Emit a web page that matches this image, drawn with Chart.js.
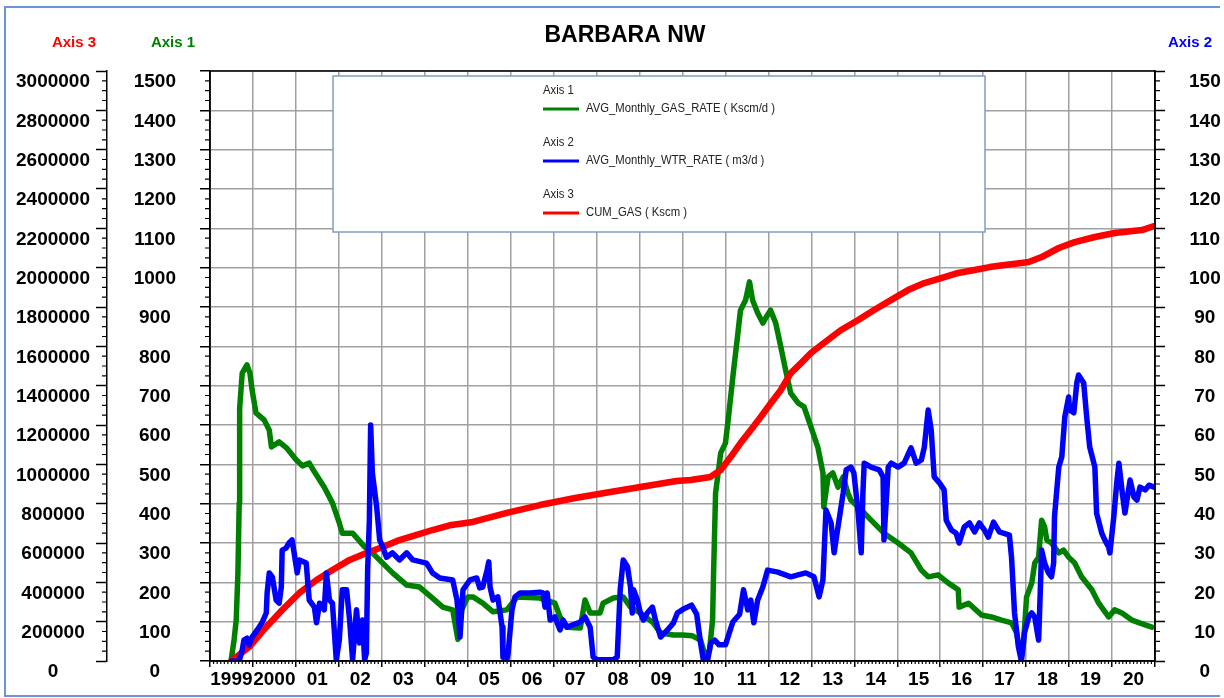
<!DOCTYPE html>
<html>
<head>
<meta charset="utf-8">
<script src="https://cdn.jsdelivr.net/npm/chart.js@4.4.0/dist/chart.umd.min.js"></script>
<style>
  html, body { margin: 0; padding: 0; background: #fff; }
</style>
</head>
<body>
<canvas id="chart" width="1224" height="698"></canvas>
<script>
// x tick labels, one per year interval
var yearLabels = ['1999', '2000', '01', '02', '03', '04', '05', '06', '07', '08', '09',
                  '10', '11', '12', '13', '14', '15', '16', '17', '18', '19', '20'];

// Axis 1 - gas rate (Kscm/d)
var gasT = [1999.49, 1999.56, 1999.61, 1999.65, 1999.68, 1999.69, 1999.75, 1999.86, 1999.93, 1999.98,
  2000.07, 2000.26, 2000.38, 2000.43, 2000.61, 2000.78, 2001.01, 2001.15, 2001.31, 2001.43,
  2001.66, 2001.85, 2002.01, 2002.08, 2002.32, 2002.60, 2002.78, 2002.99, 2003.25, 2003.58,
  2003.88, 2004.18, 2004.42, 2004.65, 2004.77, 2004.86, 2005.00, 2005.12, 2005.35, 2005.59,
  2005.91, 2006.15, 2006.68, 2007.03, 2007.15, 2007.31, 2007.62, 2007.73, 2007.85, 2008.08,
  2008.15, 2008.39, 2008.62, 2008.79, 2009.02, 2009.32, 2009.49, 2009.79, 2010.00, 2010.23,
  2010.42, 2010.49, 2010.56, 2010.63, 2010.70, 2010.72, 2010.77, 2010.89, 2011.00, 2011.07,
  2011.19, 2011.28, 2011.35, 2011.47, 2011.56, 2011.63, 2011.75, 2011.87, 2011.98, 2012.05,
  2012.17, 2012.29, 2012.40, 2012.52, 2012.69, 2012.83, 2012.99, 2013.15, 2013.27, 2013.29,
  2013.39, 2013.50, 2013.62, 2013.74, 2013.85, 2013.92, 2014.16, 2014.39, 2014.69, 2015.02,
  2015.32, 2015.56, 2015.72, 2015.95, 2016.19, 2016.42, 2016.44, 2016.66, 2016.96, 2017.19,
  2017.43, 2017.66, 2017.78, 2017.85, 2017.89, 2017.94, 2018.01, 2018.13, 2018.20, 2018.29,
  2018.36, 2018.43, 2018.48, 2018.59, 2018.76, 2018.87, 2018.99, 2019.13, 2019.29, 2019.53,
  2019.69, 2019.92, 2020.06, 2020.23, 2020.46, 2020.77, 2020.93];
var gasRate = [0, 53, 104, 224, 402, 643, 732, 753, 732, 689,
  631, 613, 587, 544, 557, 542, 511, 496, 503, 481,
  442, 402, 351, 325, 325, 290, 275, 252, 224, 193,
  188, 160, 137, 130, 55, 130, 163, 163, 147, 125,
  130, 163, 160, 147, 112, 86, 84, 155, 122, 122,
  147, 160, 163, 137, 122, 97, 71, 66, 66, 64,
  53, 28, 8, 28, 104, 206, 427, 529, 554, 620,
  740, 824, 892, 918, 964, 918, 885, 859, 880, 892,
  859, 798, 740, 681, 656, 646, 595, 544, 478, 392,
  468, 478, 442, 468, 427, 409, 384, 358, 325, 300,
  275, 231, 214, 219, 198, 181, 137, 147, 117, 112,
  104, 97, 71, 28, 8, 46, 163, 198, 249, 264,
  358, 341, 308, 300, 275, 282, 264, 249, 214, 181,
  147, 112, 130, 122, 104, 92, 86];

// Axis 2 - water rate (m3/d)
var wtrT = [1999.51, 1999.68, 1999.75, 1999.79, 1999.86, 1999.91, 1999.98, 2000.10, 2000.21, 2000.31,
  2000.33, 2000.38, 2000.45, 2000.54, 2000.61, 2000.66, 2000.68, 2000.77, 2000.84, 2000.91,
  2001.01, 2001.03, 2001.08, 2001.24, 2001.31, 2001.43, 2001.48, 2001.55, 2001.66, 2001.71,
  2001.78, 2001.85, 2001.94, 2002.01, 2002.08, 2002.18, 2002.25, 2002.32, 2002.41, 2002.48,
  2002.55, 2002.60, 2002.64, 2002.67, 2002.71, 2002.74, 2002.78, 2002.88, 2002.95, 2003.02,
  2003.11, 2003.25, 2003.41, 2003.58, 2003.72, 2004.04, 2004.18, 2004.35, 2004.65, 2004.75,
  2004.82, 2004.86, 2004.89, 2005.05, 2005.21, 2005.28, 2005.35, 2005.45, 2005.49, 2005.52,
  2005.59, 2005.70, 2005.80, 2005.82, 2005.91, 2005.94, 2006.03, 2006.10, 2006.22, 2006.45,
  2006.68, 2006.75, 2006.80, 2006.85, 2006.92, 2007.03, 2007.15, 2007.22, 2007.31, 2007.45,
  2007.62, 2007.73, 2007.85, 2007.92, 2008.01, 2008.39, 2008.48, 2008.55, 2008.62, 2008.72,
  2008.79, 2008.83, 2008.86, 2008.95, 2009.02, 2009.09, 2009.18, 2009.30, 2009.37, 2009.49,
  2009.65, 2009.79, 2009.88, 2010.02, 2010.21, 2010.33, 2010.42, 2010.49, 2010.58, 2010.66,
  2010.75, 2010.85, 2011.00, 2011.17, 2011.33, 2011.42, 2011.52, 2011.59, 2011.66, 2011.75,
  2011.87, 2011.98, 2012.22, 2012.52, 2012.69, 2012.87, 2013.06, 2013.18, 2013.27, 2013.34,
  2013.46, 2013.53, 2013.62, 2013.74, 2013.81, 2013.92, 2013.99, 2014.09, 2014.16, 2014.20,
  2014.23, 2014.39, 2014.58, 2014.67, 2014.69, 2014.79, 2014.86, 2015.02, 2015.16, 2015.32,
  2015.44, 2015.56, 2015.63, 2015.72, 2015.79, 2015.86, 2015.98, 2016.09, 2016.14, 2016.26,
  2016.37, 2016.44, 2016.56, 2016.68, 2016.80, 2016.91, 2017.03, 2017.12, 2017.24, 2017.38,
  2017.61, 2017.66, 2017.73, 2017.82, 2017.89, 2017.96, 2018.06, 2018.13, 2018.20, 2018.29,
  2018.31, 2018.36, 2018.43, 2018.52, 2018.59, 2018.64, 2018.66, 2018.76, 2018.83, 2018.90,
  2018.99, 2019.01, 2019.11, 2019.18, 2019.22, 2019.34, 2019.41, 2019.48, 2019.60, 2019.64,
  2019.76, 2019.83, 2019.92, 2019.95, 2020.04, 2020.11, 2020.16, 2020.23, 2020.30, 2020.42,
  2020.51, 2020.58, 2020.65, 2020.77, 2020.86, 2020.98];
var wtrRate = [0, 0, 2.8, 5.3, 5.8, 4.1, 6.1, 7.9, 9.7, 12.2,
  17.3, 22.4, 21.4, 15.5, 14.7, 18.8, 28.2, 28.7, 30.0, 30.8,
  23.9, 22.4, 25.7, 24.9, 15.5, 13.7, 9.7, 14.7, 13.0, 22.4,
  15.5, 14.7, 0.3, 5.3, 18.1, 18.1, 10.4, 0.3, 13.0, 4.6,
  10.4, 0.3, 2.0, 23.1, 35.8, 60.0, 47.8, 39.2, 30.8, 29.0,
  26.4, 27.5, 25.7, 27.5, 25.7, 24.9, 22.4, 21.1, 20.6, 15.5,
  6.1, 13.0, 18.1, 20.6, 21.1, 18.6, 18.8, 23.1, 25.2, 18.8,
  15.5, 16.3, 8.6, 1.0, 0.3, 2.0, 13.0, 16.3, 17.3, 17.3,
  17.5, 17.3, 13.7, 17.3, 10.4, 11.2, 7.9, 10.4, 8.6, 9.2,
  9.9, 11.2, 8.6, 1.0, 0.3, 0.3, 1.0, 18.1, 25.7, 23.9,
  18.8, 12.2, 18.1, 15.5, 12.2, 10.4, 12.2, 13.7, 10.4, 6.1,
  7.9, 9.7, 12.2, 13.2, 14.2, 11.9, 4.6, 0, 0, 4.6,
  5.3, 4.1, 4.1, 9.9, 11.9, 18.1, 13.0, 15.5, 9.7, 15.5,
  18.8, 23.1, 22.6, 21.4, 21.9, 22.4, 21.4, 16.3, 20.6, 38.4,
  35.1, 27.5, 34.1, 42.7, 48.6, 49.3, 47.8, 37.6, 27.5, 42.7,
  50.3, 49.3, 48.6, 46.8, 30.8, 49.3, 50.3, 49.3, 50.3, 54.2,
  50.3, 51.1, 54.4, 63.8, 58.7, 46.8, 45.3, 43.5, 35.8, 33.3,
  32.5, 30.0, 34.1, 35.1, 32.8, 35.1, 33.3, 31.5, 35.3, 32.8,
  32.0, 26.4, 12.2, 3.6, 0, 7.1, 11.2, 12.2, 11.2, 5.3,
  11.2, 28.2, 24.9, 22.4, 21.4, 24.9, 36.6, 49.3, 51.9, 62.0,
  67.1, 63.8, 63.1, 70.7, 72.7, 70.7, 62.0, 54.4, 49.3, 37.6,
  32.5, 30.8, 29.0, 27.5, 36.6, 45.3, 50.3, 43.5, 37.6, 46.0,
  41.7, 40.9, 44.2, 43.5, 44.7, 44.2];

// Axis 3 - cumulative gas (Kscm)
var cumT = [1999.49, 1999.91, 2000.31, 2000.68, 2001.08, 2001.48, 2001.85, 2002.25, 2002.64, 2003.02,
  2003.41, 2003.81, 2004.18, 2004.58, 2005.12, 2005.91, 2006.68, 2007.50, 2008.32, 2009.02,
  2009.86, 2010.19, 2010.65, 2010.89, 2011.12, 2011.35, 2011.59, 2011.82, 2012.06, 2012.29,
  2012.52, 2012.76, 2012.99, 2013.29, 2013.69, 2014.09, 2014.46, 2014.86, 2015.25, 2015.63,
  2016.02, 2016.42, 2016.80, 2017.15, 2017.50, 2017.89, 2018.06, 2018.36, 2018.76, 2019.13,
  2019.60, 2020.06, 2020.70, 2020.98];
var cumGas = [0, 71000, 173000, 259000, 346000, 412000, 463000, 514000, 549000, 580000,
  615000, 641000, 666000, 690000, 707000, 753000, 793000, 829000, 859000, 885000,
  915000, 920000, 936000, 971000, 1037000, 1108000, 1175000, 1241000, 1312000, 1378000,
  1464000, 1515000, 1566000, 1617000, 1683000, 1734000, 1785000, 1836000, 1886000, 1922000,
  1947000, 1973000, 1988000, 2003000, 2014000, 2024000, 2029000, 2054000, 2100000, 2130000,
  2156000, 2176000, 2191000, 2212000];

function pairs(xs, ys) {
    return xs.map(function (x, i) { return { x: x, y: ys[i] }; });
}

var tickFont = { family: "'Liberation Sans', Arial, sans-serif", size: 19, weight: 'bold' };
var gridGray = '#a0a0a0';

// minor ticks, axis names, title, legend box and frames
var decorPlugin = {
    id: 'decor',
    beforeDraw: function (chart) {
        var ctx = chart.ctx;
        ctx.save();
        ctx.fillStyle = '#fff';
        ctx.fillRect(0, 0, chart.width, chart.height);
        ctx.restore();
    },
    afterDraw: function (chart) {
        var ctx = chart.ctx;
        var area = chart.chartArea;
        var s = chart.scales;
        ctx.save();

        // outer border
        ctx.strokeStyle = '#6b95d6';
        ctx.lineWidth = 2;
        ctx.beginPath();
        ctx.moveTo(1220, 7); ctx.lineTo(5, 7); ctx.lineTo(5, 696); ctx.lineTo(1220, 696);
        ctx.stroke();

        // plot frame
        ctx.strokeStyle = '#000';
        ctx.lineWidth = 1.5;
        ctx.strokeRect(area.left, area.top, area.right - area.left, area.bottom - area.top);

        // minor ticks
        ctx.lineWidth = 1.2;
        ctx.beginPath();
        for (var yr = 1999; yr < 2021; yr++) {
            for (var m = 1; m < 12; m++) {
                var px = s.x.getPixelForValue(yr + m / 12);
                ctx.moveTo(px, area.bottom); ctx.lineTo(px, area.bottom + 3);
            }
        }
        function yMinor(scale, step, major, left, len) {
            for (var v = 0; v <= scale.max; v += step) {
                if (v % major === 0) continue;
                var py = scale.getPixelForValue(v);
                if (left) { ctx.moveTo(scale.right - len, py); ctx.lineTo(scale.right, py); }
                else { ctx.moveTo(scale.left, py); ctx.lineTo(scale.left + len, py); }
            }
        }
        yMinor(s.y3, 50000, 200000, true, 5);
        yMinor(s.y1, 25, 100, true, 5);
        yMinor(s.y2, 2.5, 10, false, 5);
        ctx.stroke();

        // title
        ctx.fillStyle = '#000';
        ctx.textAlign = 'center';
        ctx.textBaseline = 'middle';
        ctx.font = "bold 23px 'Liberation Sans', Arial, sans-serif";
        ctx.fillText('BARBARA NW', 625, 36);

        // axis names
        ctx.font = "bold 15px 'Liberation Sans', Arial, sans-serif";
        ctx.fillStyle = '#ff0000'; ctx.fillText('Axis 3', 74, 43);
        ctx.fillStyle = '#008000'; ctx.fillText('Axis 1', 173, 43);
        ctx.fillStyle = '#0000ff'; ctx.fillText('Axis 2', 1190, 43);

        // legend box
        ctx.fillStyle = '#fff';
        ctx.fillRect(333, 76, 652, 156);
        ctx.strokeStyle = '#7f9fc8';
        ctx.lineWidth = 1.5;
        ctx.strokeRect(333, 76, 652, 156);

        ctx.font = "12px 'Liberation Sans', Arial, sans-serif";
        ctx.textAlign = 'left';
        var first = chart.data.datasets[0].label;
        var k = 189 / ctx.measureText(first).width;
        chart.data.datasets.forEach(function (ds, i) {
            var top = 91 + i * 52;
            ctx.fillStyle = '#222';
            ctx.fillText(ds.axisName, 543, top, ctx.measureText(ds.axisName).width * k);
            ctx.strokeStyle = ds.borderColor;
            ctx.lineWidth = 3;
            ctx.beginPath();
            ctx.moveTo(543, top + 18); ctx.lineTo(579, top + 18);
            ctx.stroke();
            ctx.fillStyle = '#222';
            ctx.fillText(ds.label, 586, top + 18, ctx.measureText(ds.label).width * k);
        });
        ctx.restore();
    }
};

new Chart(document.getElementById('chart'), {
    type: 'line',
    data: {
        datasets: [{
            label: 'AVG_Monthly_GAS_RATE ( Kscm/d )',
            axisName: 'Axis 1',
            data: pairs(gasT, gasRate),
            yAxisID: 'y1',
            borderColor: '#008000',
            borderWidth: 5.5,
            pointRadius: 0,
            order: 3
        }, {
            label: 'AVG_Monthly_WTR_RATE ( m3/d )',
            axisName: 'Axis 2',
            data: pairs(wtrT, wtrRate),
            yAxisID: 'y2',
            borderColor: '#0000ff',
            borderWidth: 5.5,
            pointRadius: 0,
            order: 1
        }, {
            label: 'CUM_GAS ( Kscm )',
            axisName: 'Axis 3',
            data: pairs(cumT, cumGas),
            yAxisID: 'y3',
            borderColor: '#ff0000',
            borderWidth: 6.5,
            pointRadius: 0,
            order: 2
        }]
    },
    options: {
        responsive: false,
        animation: false,
        layout: { padding: { left: 16, right: 0, top: 71, bottom: 7 } },
        plugins: {
            legend: { display: false },
            title: { display: false },
            tooltip: { enabled: false }
        },
        elements: { line: { tension: 0, borderJoinStyle: 'round', borderCapStyle: 'round' } },
        scales: {
            x: {
                type: 'linear',
                position: 'bottom',
                min: 1999,
                max: 2021,
                afterFit: function (scale) { scale.height = 30; },
                grid: { color: gridGray, lineWidth: 1.5, tickColor: '#000', tickLength: 6, tickWidth: 1.5 },
                border: { color: '#000', width: 1.5 },
                ticks: {
                    stepSize: 1,
                    autoSkip: false,
                    maxRotation: 0,
                    labelOffset: 21.4,
                    padding: 1,
                    color: '#000',
                    font: tickFont,
                    callback: function (v) { return yearLabels[v - 1999] || ''; }
                }
            },
            y3: {
                position: 'left',
                weight: 1,
                min: 0,
                max: 3000000,
                afterFit: function (scale) { scale.width = 91; },
                grid: { drawOnChartArea: false, tickColor: '#000', tickLength: 11, tickWidth: 1.5 },
                border: { color: '#000', width: 1.5 },
                ticks: {
                    stepSize: 200000, crossAlign: 'center', padding: 6, labelOffset: 11,
                    color: '#000', font: tickFont,
                    callback: function (v) { return String(v); }
                }
            },
            y1: {
                position: 'left',
                weight: 0,
                min: 0,
                max: 1500,
                afterFit: function (scale) { scale.width = 103; },
                grid: { color: gridGray, lineWidth: 1.5, tickColor: '#000', tickLength: 10, tickWidth: 1.5 },
                border: { color: '#000', width: 1.5 },
                ticks: {
                    stepSize: 100, crossAlign: 'center', padding: 24, labelOffset: 11,
                    color: '#000', font: tickFont,
                    callback: function (v) { return String(v); }
                }
            },
            y2: {
                position: 'right',
                min: 0,
                max: 150,
                afterFit: function (scale) { scale.width = 69; },
                grid: { drawOnChartArea: false, tickColor: '#000', tickLength: 10, tickWidth: 1.5 },
                border: { color: '#000', width: 1.5 },
                ticks: {
                    stepSize: 10, crossAlign: 'center', padding: 24, labelOffset: 11,
                    color: '#000', font: tickFont,
                    callback: function (v) { return String(v); }
                }
            }
        }
    },
    plugins: [decorPlugin]
});
</script>
</body>
</html>
